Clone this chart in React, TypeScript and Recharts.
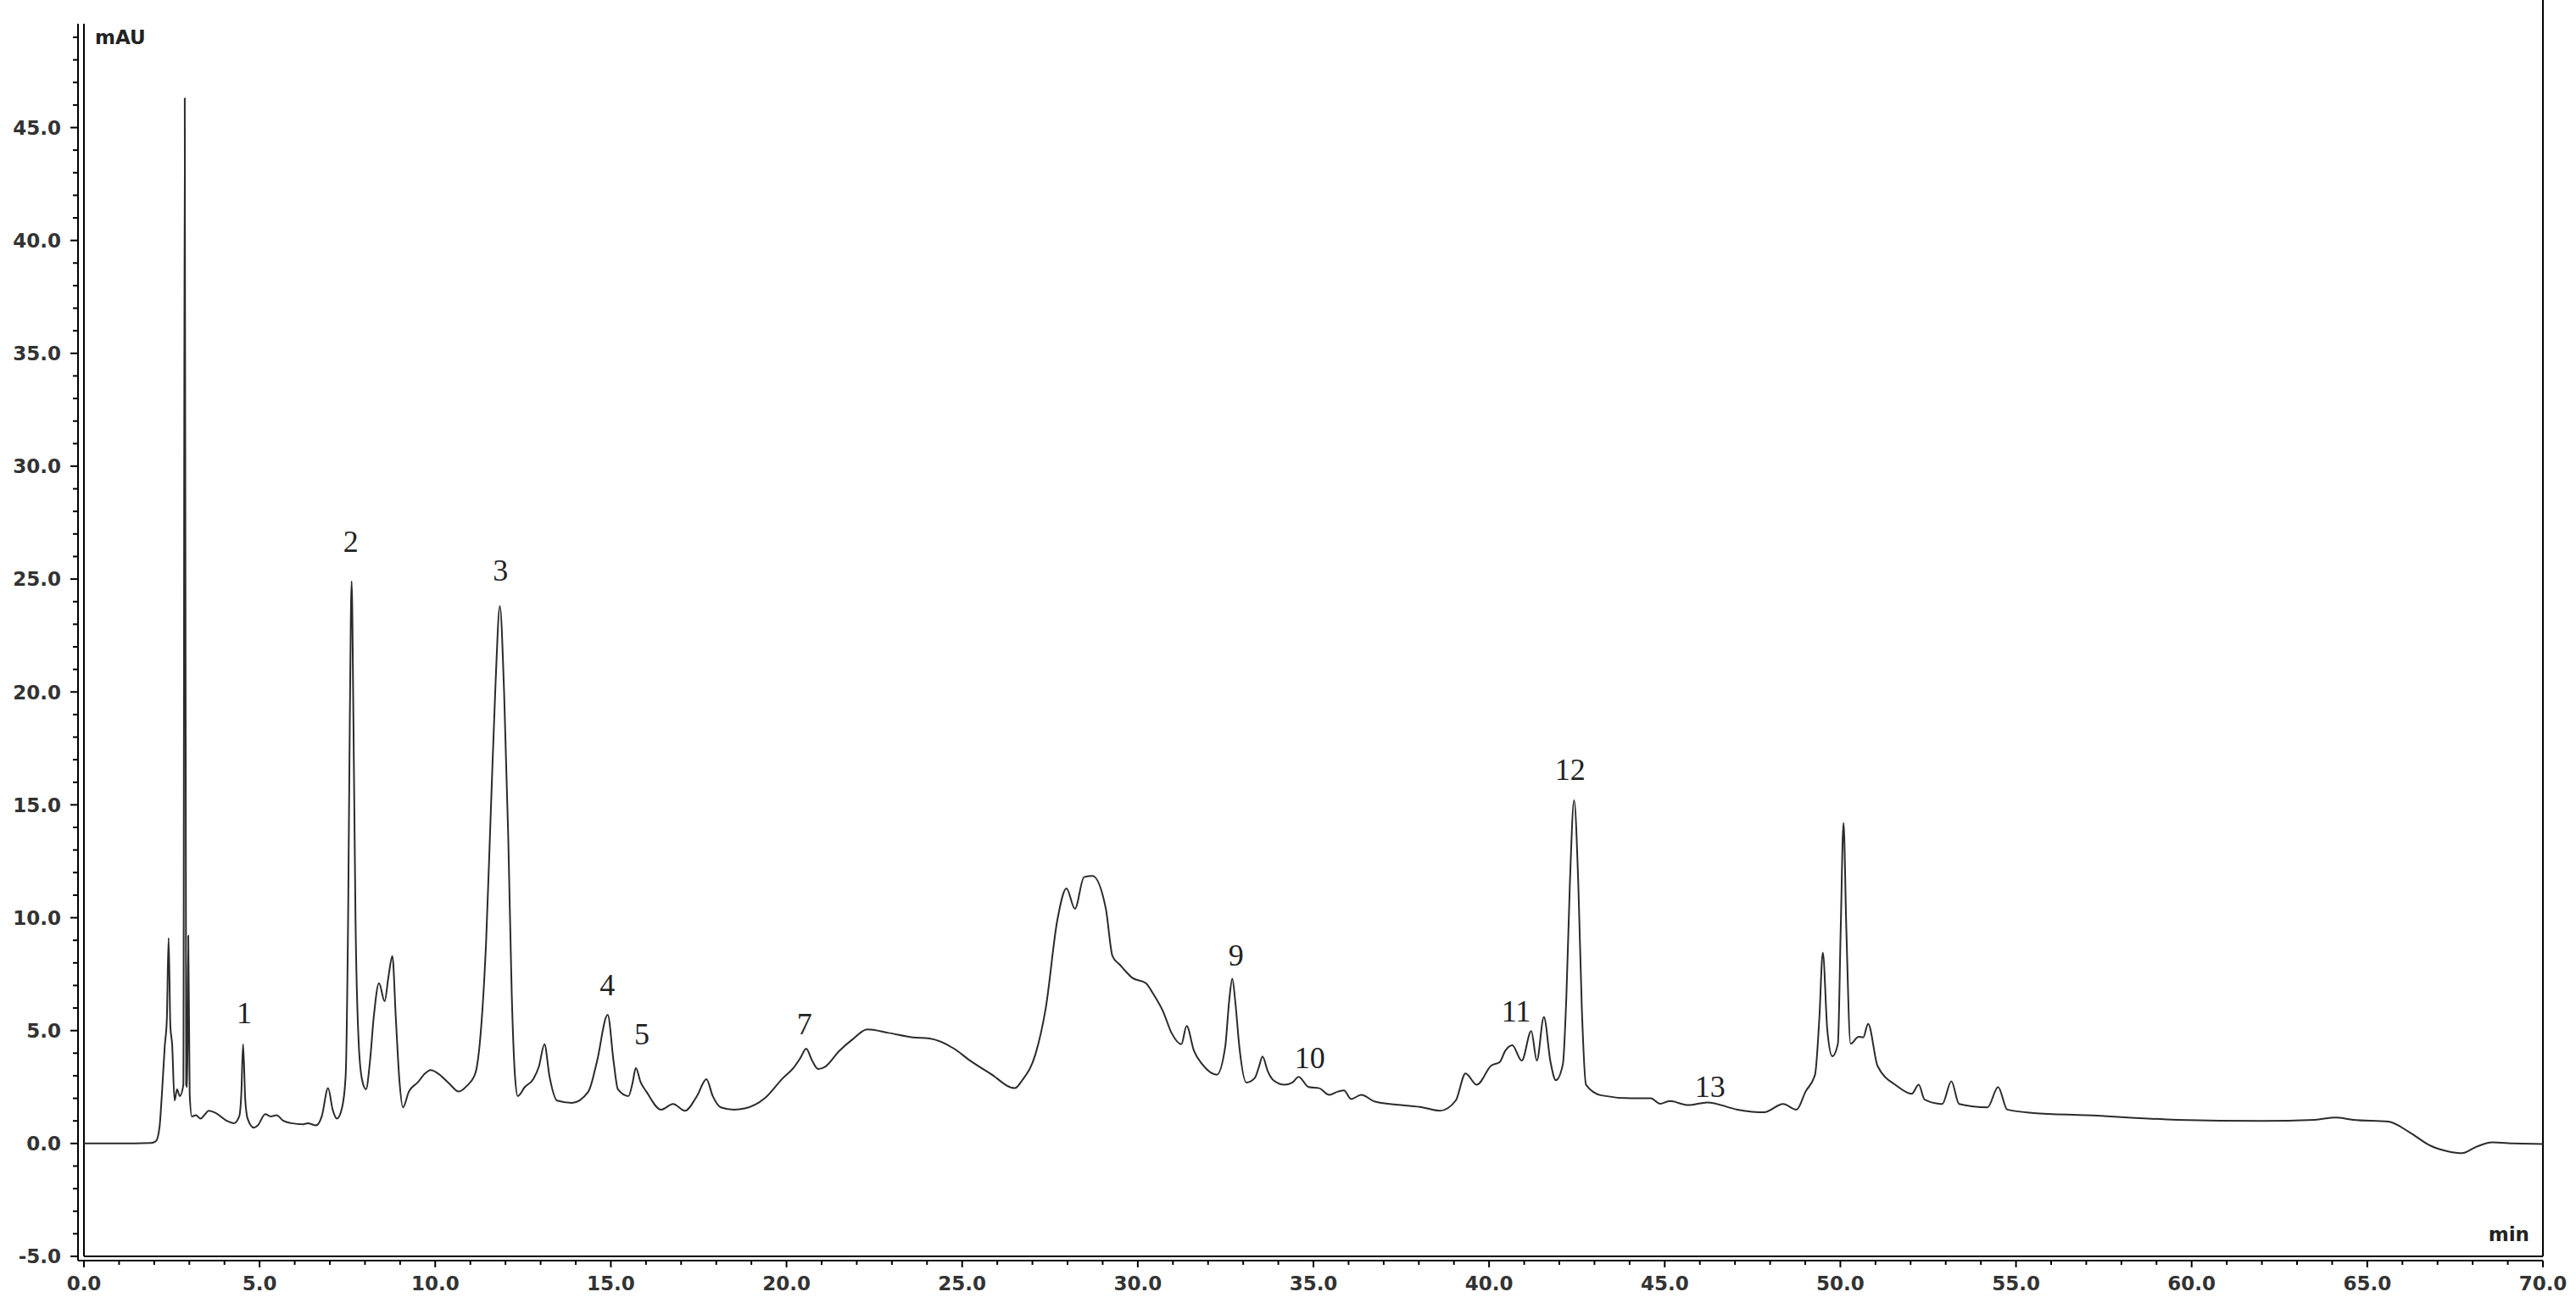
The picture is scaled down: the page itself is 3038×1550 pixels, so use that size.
import { LineChart, Line, XAxis, YAxis, ReferenceLine, ReferenceDot } from "recharts";

// retention time (min), absorbance (mAU)
const solventFront: [number, number][] = [
  [0, 0], [1.0, 0], [1.9, 0.02], [2.05, 0.1], [2.15, 0.7], [2.22, 2.2], [2.3, 4.3], [2.36, 5.5],
  [2.41, 9.1], [2.46, 5.2], [2.51, 4.4], [2.58, 1.9], [2.65, 2.4], [2.73, 2.1], [2.83, 2.6],
  [2.87, 46.3], [2.91, 2.6], [2.94, 2.5], [2.97, 9.2], [3.01, 2.2], [3.07, 1.2], [3.19, 1.25],
  [3.32, 1.1], [3.45, 1.3], [3.55, 1.45], [3.75, 1.35], [4.07, 1.0], [4.27, 0.9], [4.42, 1.2],
  [4.48, 2.2], [4.53, 4.4], [4.59, 2.0], [4.66, 1.1], [4.84, 0.7], [4.95, 0.8], [5.16, 1.3],
  [5.32, 1.2], [5.48, 1.25], [5.68, 1.0], [5.9, 0.9], [6.25, 0.85], [6.37, 0.9], [6.61, 0.8],
  [6.77, 1.2], [6.95, 2.45], [7.08, 1.5], [7.2, 1.1], [7.35, 1.6],
];

const earlyPeaks: [number, number][] = [
  [7.45, 3.0], [7.52, 10], [7.57, 19], [7.62, 24.9], [7.67, 19], [7.73, 10], [7.82, 4.5],
  [7.92, 2.8], [8.03, 2.4], [8.14, 3.6], [8.25, 5.6], [8.4, 7.1], [8.56, 6.3], [8.67, 7.4],
  [8.78, 8.3], [8.88, 5.5], [8.98, 2.8], [9.08, 1.6], [9.25, 2.3], [9.5, 2.7], [9.71, 3.1],
  [9.87, 3.25], [10.08, 3.1], [10.4, 2.65], [10.67, 2.3], [10.9, 2.55], [11.14, 3.1], [11.3, 5.0],
  [11.45, 9.0], [11.58, 14.6], [11.72, 20.5], [11.84, 23.8], [11.96, 20], [12.08, 13.5],
  [12.18, 6.5], [12.27, 3.0], [12.35, 2.1], [12.55, 2.5], [12.79, 2.85], [12.95, 3.4],
  [13.11, 4.4], [13.25, 3.0], [13.47, 1.9],
];

const middleRegion: [number, number][] = [
  [13.89, 1.8], [14.36, 2.3], [14.6, 3.6], [14.91, 5.7], [15.08, 3.6], [15.2, 2.4], [15.5, 2.1],
  [15.62, 2.7], [15.71, 3.35], [15.85, 2.7], [16.01, 2.3], [16.43, 1.5], [16.77, 1.75],
  [17.11, 1.45], [17.45, 2.1], [17.72, 2.85], [17.9, 2.1], [18.13, 1.6], [18.5, 1.5],
  [18.81, 1.55], [19.38, 2.0], [19.9, 2.9], [20.2, 3.35], [20.4, 3.8], [20.56, 4.2], [20.72, 3.7],
  [20.9, 3.3], [21.1, 3.4], [21.5, 4.1], [21.87, 4.6], [22.3, 5.05], [22.9, 4.9], [23.6, 4.7],
  [24.07, 4.65], [24.77, 4.2], [25.2, 3.7], [25.8, 3.1], [26.5, 2.45], [26.71, 2.8],
];

const broadHump: [number, number][] = [
  [27.09, 3.97], [27.38, 6.0], [27.71, 9.9], [27.97, 11.3], [28.21, 10.4], [28.47, 11.8],
  [28.71, 11.85], [29.09, 10.4], [29.28, 8.3], [29.5, 7.9], [29.67, 7.6], [29.83, 7.35],
  [30.23, 7.1], [30.45, 6.6], [30.72, 5.85], [30.96, 4.9], [31.24, 4.4], [31.39, 5.2],
  [31.6, 4.1], [31.84, 3.5], [32.25, 3.05], [32.49, 4.3], [32.6, 6.3], [32.69, 7.3], [32.78, 6.2],
  [32.89, 4.3], [33.09, 2.7], [33.33, 2.9], [33.45, 3.4], [33.55, 3.85], [33.7, 3.2], [33.86, 2.8],
  [34.18, 2.6], [34.4, 2.7], [34.58, 2.95], [34.86, 2.5], [35.16, 2.45], [35.45, 2.15],
  [35.7, 2.3], [35.87, 2.35], [36.07, 1.97], [36.36, 2.15], [36.76, 1.85], [37.5, 1.7],
  [38.1, 1.6], [38.6, 1.45],
];

const latePeaks: [number, number][] = [
  [39.05, 1.9], [39.33, 3.1], [39.65, 2.6], [40.06, 3.45], [40.3, 3.6], [40.46, 4.1],
  [40.66, 4.35], [40.93, 3.67], [41.2, 4.98], [41.36, 3.67], [41.56, 5.6], [41.75, 3.6],
  [41.9, 2.8], [42.1, 3.5], [42.2, 6.5], [42.3, 11.5], [42.42, 15.2], [42.54, 11.5], [42.64, 6.0],
  [42.76, 2.6], [43.2, 2.13], [44.06, 2.0], [44.6, 2.0], [44.87, 1.76], [45.14, 1.88],
  [45.67, 1.7], [46.21, 1.82], [47.07, 1.5], [47.83, 1.38], [48.37, 1.75], [48.75, 1.5],
  [49.01, 2.3], [49.28, 3.06], [49.4, 5.5], [49.5, 8.45], [49.63, 5.0], [49.77, 3.86],
  [49.93, 4.42], [50.01, 9.5], [50.09, 14.2], [50.17, 9.5], [50.29, 4.42], [50.52, 4.73],
  [50.65, 4.7], [50.79, 5.3], [51.06, 3.43], [51.6, 2.56], [52.03, 2.2], [52.23, 2.6],
  [52.4, 1.94], [52.9, 1.75], [53.16, 2.75], [53.38, 1.75], [54.19, 1.6], [54.49, 2.5],
  [54.75, 1.5],
];

const washout: [number, number][] = [
  [55.5, 1.35], [57, 1.25], [59.6, 1.05], [62, 1.0], [63.5, 1.05], [64.1, 1.15], [64.6, 1.05],
  [65.6, 0.97], [66.2, 0.5], [66.8, -0.1], [67.3, -0.35], [67.7, -0.43], [68.1, -0.15],
  [68.55, 0.05], [69.2, 0.0], [70, -0.02],
];

const peakLabels = [
  { name: "1", t: 4.56, v: 5.8 },
  { name: "2", t: 7.6, v: 26.7 },
  { name: "3", t: 11.86, v: 25.4 },
  { name: "4", t: 14.9, v: 7.06 },
  { name: "5", t: 15.88, v: 4.88 },
  { name: "7", t: 20.51, v: 5.32 },
  { name: "9", t: 32.8, v: 8.35 },
  { name: "10", t: 34.9, v: 3.8 },
  { name: "11", t: 40.77, v: 5.9 },
  { name: "12", t: 42.31, v: 16.6 },
  { name: "13", t: 46.29, v: 2.55 },
];

const timeTicks = Array.from({ length: 71 }, (_, i) => i);
const signalTicks = Array.from({ length: 55 }, (_, i) => i - 5);

const data = [...solventFront, ...earlyPeaks, ...middleRegion, ...broadHump, ...latePeaks, ...washout]
  .map(([t, v]) => ({ t, v }));

const tickFont = { fontFamily: "DejaVu Sans", fontWeight: 700, fontSize: 23, fill: "#333" };

function TimeTick({ x, y, payload }: any) {
  const major = payload.value % 5 === 0;
  return (
    <g>
      <line x1={x} y1={y} x2={x} y2={y + (major ? 8 : 5)} stroke="#000" strokeWidth={2} />
      {major && (
        <text x={x} y={y + 35} textAnchor="middle" {...tickFont}>
          {payload.value.toFixed(1)}
        </text>
      )}
    </g>
  );
}

function SignalTick({ x, y, payload }: any) {
  const major = payload.value % 5 === 0;
  return (
    <g>
      <line x1={x} y1={y} x2={x - (major ? 9 : 6)} y2={y} stroke="#000" strokeWidth={2} />
      {major && (
        <text x={x - 20} y={y} dy="0.36em" textAnchor="end" {...tickFont}>
          {payload.value.toFixed(1)}
        </text>
      )}
    </g>
  );
}

const unitLabel = (text: string, place: (vb: any) => { x: number; y: number }, anchor: string) =>
  (props: any) => {
    const p = place(props.viewBox || {});
    return (
      <text x={p.x} y={p.y} textAnchor={anchor} {...tickFont} fill="#222">
        {text}
      </text>
    );
  };

export default function App() {
  return (
    <div style={{ position: "absolute", left: 0, top: 0, background: "#fff" }}>
      <LineChart width={3038} height={1550} data={data} margin={{ top: 28, right: 39, bottom: 0, left: 0 }}>
        <XAxis
          dataKey="t"
          type="number"
          domain={[0, 70]}
          ticks={timeTicks}
          interval={0}
          padding={{ left: 7, right: 0 }}
          height={63}
          tickSize={0}
          tickMargin={0}
          tickLine={false}
          axisLine={{ stroke: "#000", strokeWidth: 2 }}
          tick={<TimeTick />}
          label={unitLabel("min", (vb) => ({ x: vb.x + vb.width - 16, y: vb.y - 23 }), "end")}
        />
        <YAxis
          type="number"
          domain={[-5, 49.6]}
          ticks={signalTicks}
          interval={0}
          padding={{ top: 0, bottom: 5 }}
          width={92}
          tickSize={0}
          tickMargin={0}
          tickLine={false}
          axisLine={{ stroke: "#000", strokeWidth: 2 }}
          tick={<SignalTick />}
          label={unitLabel("mAU", (vb) => ({ x: vb.x + vb.width + 20, y: vb.y + 24 }), "start")}
        />
        <ReferenceLine segment={[{ x: 0, y: -5 }, { x: 0, y: 49.6 }]} stroke="#000" strokeWidth={2} ifOverflow="visible" />
        <ReferenceLine segment={[{ x: 0, y: -5 }, { x: 70, y: -5 }]} stroke="#000" strokeWidth={2} ifOverflow="visible" />
        <ReferenceLine segment={[{ x: 70, y: -5 }, { x: 70, y: 50.65 }]} stroke="#000" strokeWidth={2} ifOverflow="visible" />
        <Line
          type="monotone"
          dataKey="v"
          stroke="#2b2b2b"
          strokeWidth={2}
          dot={false}
          isAnimationActive={false}
        />
        {peakLabels.map((p) => (
          <ReferenceDot
            key={p.name}
            x={p.t}
            y={p.v}
            r={0}
            fill="none"
            stroke="none"
            label={{ value: p.name, position: "center", fontFamily: "Liberation Serif", fontSize: 36, fill: "#222" }}
          />
        ))}
      </LineChart>
    </div>
  );
}
